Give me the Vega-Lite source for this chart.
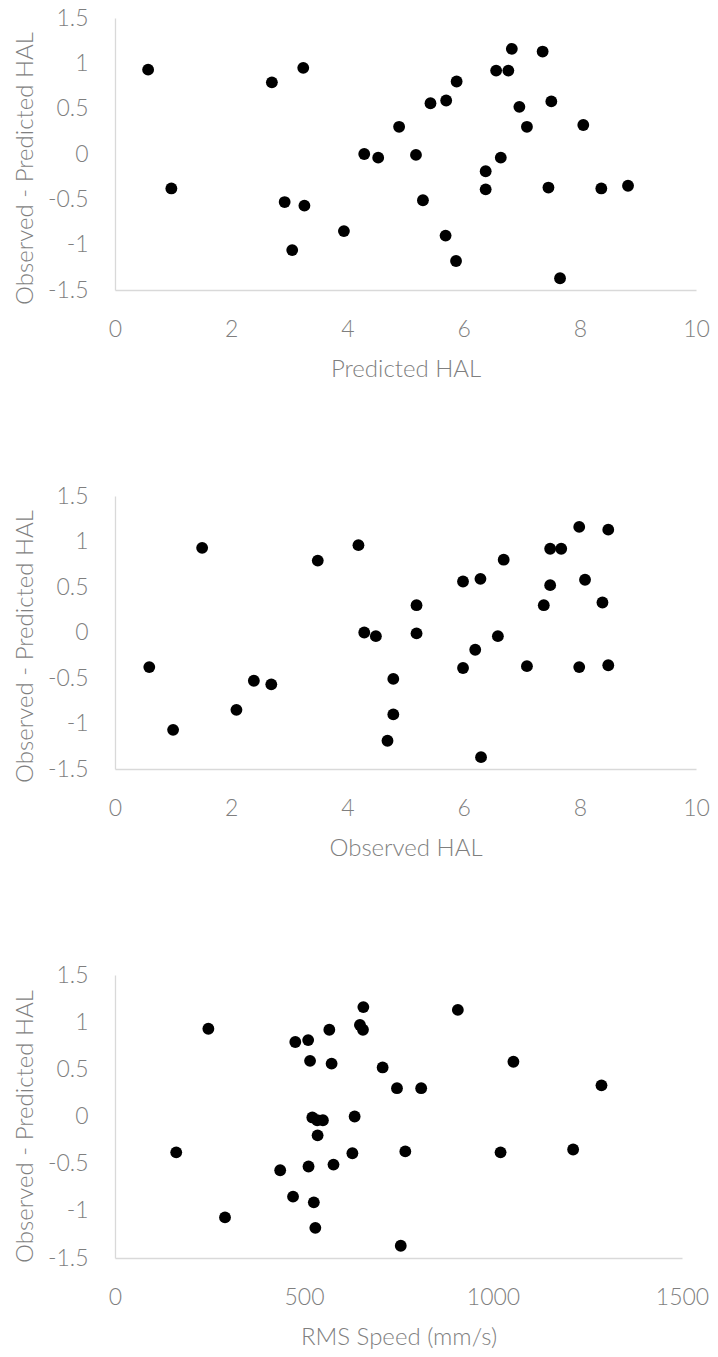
{
  "$schema": "https://vega.github.io/schema/vega-lite/v6.json",
  "padding": {"top": 7, "left": 13, "right": 5, "bottom": 5},
  "background": "white",
  "datasets": {
    "p1": [
      {"pred": 0.57, "resid": 0.93}, {"pred": 0.97, "resid": -0.38}, {"pred": 2.70, "resid": 0.79},
      {"pred": 2.92, "resid": -0.53}, {"pred": 3.05, "resid": -1.06}, {"pred": 3.24, "resid": 0.95},
      {"pred": 3.26, "resid": -0.57}, {"pred": 3.94, "resid": -0.85}, {"pred": 4.29, "resid": 0.00},
      {"pred": 4.53, "resid": -0.04}, {"pred": 4.89, "resid": 0.30}, {"pred": 5.18, "resid": -0.01},
      {"pred": 5.30, "resid": -0.51}, {"pred": 5.43, "resid": 0.56}, {"pred": 5.69, "resid": -0.90},
      {"pred": 5.70, "resid": 0.59}, {"pred": 5.87, "resid": -1.18}, {"pred": 5.88, "resid": 0.80},
      {"pred": 6.38, "resid": -0.19}, {"pred": 6.38, "resid": -0.39}, {"pred": 6.56, "resid": 0.92},
      {"pred": 6.64, "resid": -0.04}, {"pred": 6.77, "resid": 0.92}, {"pred": 6.83, "resid": 1.16},
      {"pred": 6.96, "resid": 0.52}, {"pred": 7.09, "resid": 0.30}, {"pred": 7.36, "resid": 1.13},
      {"pred": 7.46, "resid": -0.37}, {"pred": 7.51, "resid": 0.58}, {"pred": 7.66, "resid": -1.37},
      {"pred": 8.06, "resid": 0.32}, {"pred": 8.37, "resid": -0.38}, {"pred": 8.83, "resid": -0.35}
    ],
    "p2": [
      {"obs": 1.50, "resid": 0.93}, {"obs": 3.49, "resid": 0.79}, {"obs": 4.19, "resid": 0.96},
      {"obs": 0.59, "resid": -0.38}, {"obs": 1.00, "resid": -1.07}, {"obs": 2.09, "resid": -0.85},
      {"obs": 2.39, "resid": -0.53}, {"obs": 2.69, "resid": -0.57}, {"obs": 4.29, "resid": 0.00},
      {"obs": 4.49, "resid": -0.04}, {"obs": 4.79, "resid": -0.51}, {"obs": 4.79, "resid": -0.90},
      {"obs": 4.69, "resid": -1.19}, {"obs": 5.19, "resid": 0.30}, {"obs": 5.19, "resid": -0.01},
      {"obs": 5.99, "resid": 0.56}, {"obs": 6.29, "resid": 0.59}, {"obs": 6.69, "resid": 0.80},
      {"obs": 7.49, "resid": 0.92}, {"obs": 7.68, "resid": 0.92}, {"obs": 7.99, "resid": 1.16},
      {"obs": 8.49, "resid": 1.13}, {"obs": 7.49, "resid": 0.52}, {"obs": 8.09, "resid": 0.58},
      {"obs": 7.38, "resid": 0.30}, {"obs": 8.39, "resid": 0.33}, {"obs": 6.59, "resid": -0.04},
      {"obs": 6.20, "resid": -0.19}, {"obs": 5.99, "resid": -0.39}, {"obs": 7.09, "resid": -0.37},
      {"obs": 7.99, "resid": -0.38}, {"obs": 8.49, "resid": -0.36}, {"obs": 6.30, "resid": -1.37}
    ],
    "p3": [
      {"rms": 247, "resid": 0.93}, {"rms": 162, "resid": -0.38}, {"rms": 477, "resid": 0.79},
      {"rms": 511, "resid": 0.81}, {"rms": 567, "resid": 0.92}, {"rms": 648, "resid": 0.97},
      {"rms": 656, "resid": 0.92}, {"rms": 657, "resid": 1.16}, {"rms": 516, "resid": 0.59},
      {"rms": 573, "resid": 0.56}, {"rms": 708, "resid": 0.52}, {"rms": 746, "resid": 0.30},
      {"rms": 810, "resid": 0.30}, {"rms": 522, "resid": -0.01}, {"rms": 535, "resid": -0.04},
      {"rms": 550, "resid": -0.04}, {"rms": 536, "resid": -0.20}, {"rms": 634, "resid": 0.00},
      {"rms": 768, "resid": -0.37}, {"rms": 628, "resid": -0.39}, {"rms": 437, "resid": -0.57},
      {"rms": 512, "resid": -0.53}, {"rms": 578, "resid": -0.51}, {"rms": 471, "resid": -0.85},
      {"rms": 526, "resid": -0.91}, {"rms": 291, "resid": -1.07}, {"rms": 530, "resid": -1.18},
      {"rms": 756, "resid": -1.37}, {"rms": 907, "resid": 1.13}, {"rms": 1054, "resid": 0.58},
      {"rms": 1020, "resid": -0.38}, {"rms": 1212, "resid": -0.35}, {"rms": 1287, "resid": 0.33}
    ]
  },
  "config": {
    "view": {"stroke": null},
    "concat": {"spacing": 104},
    "font": "Lato",
    "axis": {
      "grid": false,
      "ticks": false,
      "tickSize": 0,
      "domainColor": "#d9d9d9",
      "domainWidth": 1.3,
      "labelColor": "#7f7f7f",
      "titleColor": "#7f7f7f",
      "labelFont": "Lato",
      "titleFont": "Lato",
      "labelFontSize": 23,
      "titleFontSize": 24,
      "labelFontWeight": 300,
      "titleFontWeight": 300,
      "labelFlush": false,
      "labelOverlap": false
    },
    "axisX": {"labelPadding": 28, "titlePadding": 16},
    "axisY": {"labelPadding": 27, "titlePadding": 10}
  },
  "vconcat": [
    {
      "width": 581,
      "height": 272,
      "data": {"name": "p1"},
      "mark": {"type": "point", "filled": true, "color": "black", "opacity": 1, "size": 140},
      "encoding": {
        "x": {"field": "pred", "type": "quantitative", "title": "Predicted HAL",
              "scale": {"domain": [0, 10], "nice": false, "zero": false},
              "axis": {"values": [0, 2, 4, 6, 8, 10]}},
        "y": {"field": "resid", "type": "quantitative", "title": "Observed - Predicted HAL",
              "scale": {"domain": [-1.5, 1.5], "nice": false, "zero": false},
              "axis": {"values": [-1.5, -1, -0.5, 0, 0.5, 1, 1.5], "titleY": 150,
                       "labelExpr": "datum.value < 0 ? '-' + format(-datum.value, '~g') : format(datum.value, '~g')"}}
      }
    },
    {
      "width": 581,
      "height": 273,
      "data": {"name": "p2"},
      "mark": {"type": "point", "filled": true, "color": "black", "opacity": 1, "size": 140},
      "encoding": {
        "x": {"field": "obs", "type": "quantitative", "title": "Observed HAL",
              "scale": {"domain": [0, 10], "nice": false, "zero": false},
              "axis": {"values": [0, 2, 4, 6, 8, 10]}},
        "y": {"field": "resid", "type": "quantitative", "title": "Observed - Predicted HAL",
              "scale": {"domain": [-1.5, 1.5], "nice": false, "zero": false},
              "axis": {"values": [-1.5, -1, -0.5, 0, 0.5, 1, 1.5], "titleY": 150,
                       "labelExpr": "datum.value < 0 ? '-' + format(-datum.value, '~g') : format(datum.value, '~g')"}}
      }
    },
    {
      "width": 567,
      "height": 283,
      "data": {"name": "p3"},
      "mark": {"type": "point", "filled": true, "color": "black", "opacity": 1, "size": 140},
      "encoding": {
        "x": {"field": "rms", "type": "quantitative", "title": "RMS Speed (mm/s)",
              "scale": {"domain": [0, 1500], "nice": false, "zero": false},
              "axis": {"values": [0, 500, 1000, 1500], "format": "d"}},
        "y": {"field": "resid", "type": "quantitative", "title": "Observed - Predicted HAL",
              "scale": {"domain": [-1.5, 1.5], "nice": false, "zero": false},
              "axis": {"values": [-1.5, -1, -0.5, 0, 0.5, 1, 1.5], "titleY": 151,
                       "labelExpr": "datum.value < 0 ? '-' + format(-datum.value, '~g') : format(datum.value, '~g')"}}
      }
    }
  ]
}
